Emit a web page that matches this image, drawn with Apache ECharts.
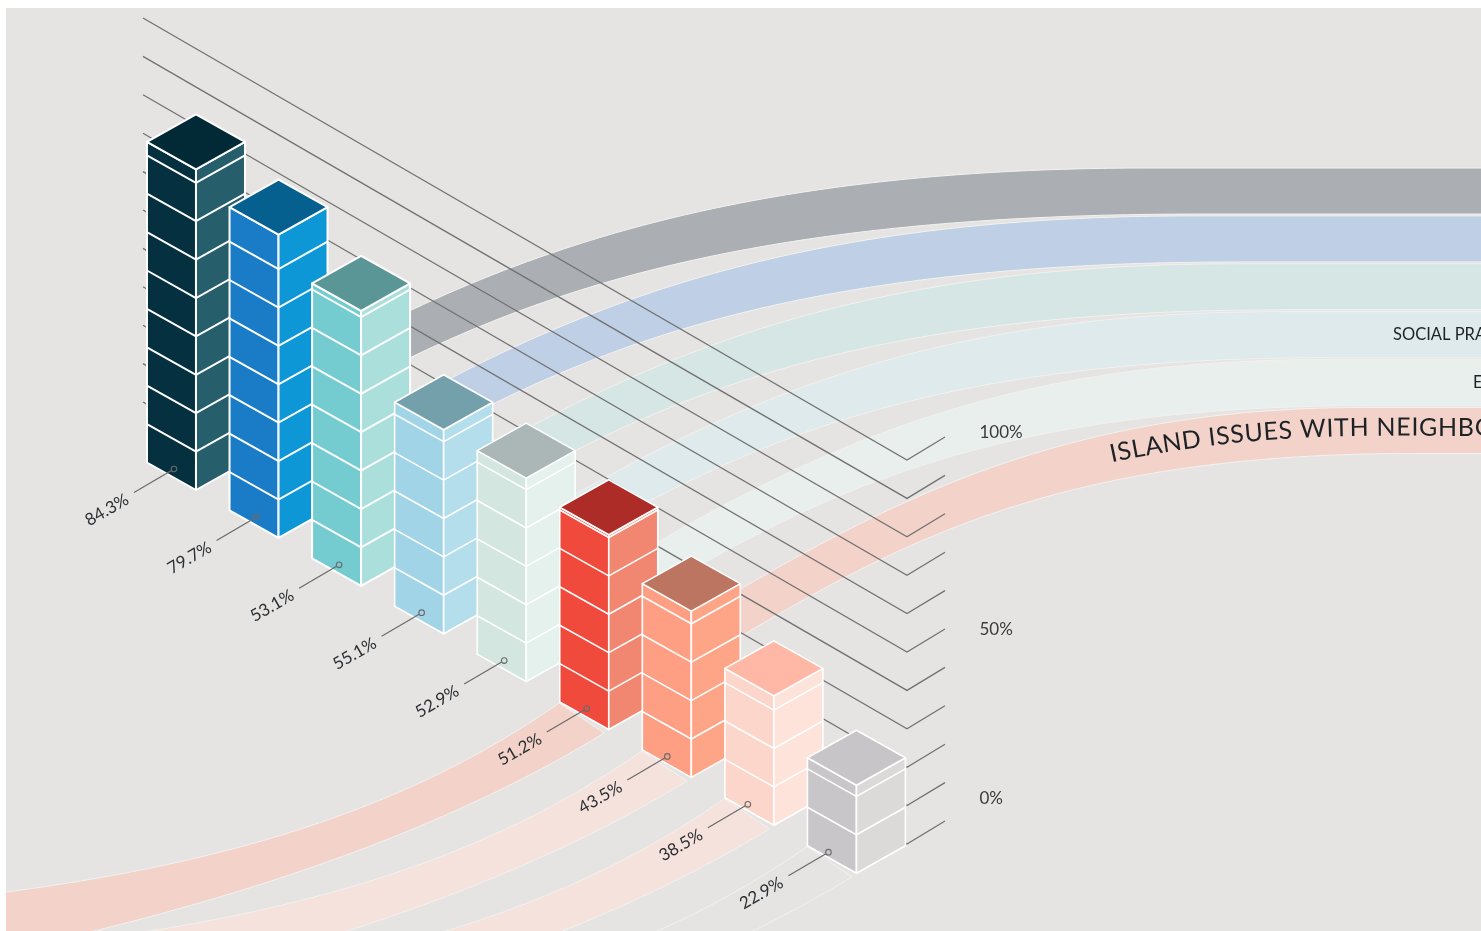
<!DOCTYPE html>
<html>
<head>
<meta charset="utf-8">
<title>Island issues</title>
<style>
html,body{margin:0;padding:0;background:#fff;overflow:hidden;}
#main{position:absolute;left:6px;top:8px;width:1475px;height:923px;background:#e5e4e2;}
</style>
<script src="https://cdn.jsdelivr.net/npm/echarts@6/dist/echarts.min.js"></script>
</head>
<body>
<div id="main"></div>
<script>
var categories = ['a','b','c','d','e','f','g','h','i'];
// bar heights as drawn, they differ from the printed labels on some bars
var barHeights = [83.5, 79, 71.6, 53.1, 53, 50.7, 43.3, 33.7, 22.9];
var barLabels = ['84.3%','79.7%','53.1%','55.1%','52.9%','51.2%','43.5%','38.5%','22.9%'];
var leftColors = ['#05303f','#1a7cc6','#74cbd0','#a1d4e6','#d4e6e0','#ef4a3b','#fe9f84','#fdd6cb','#c8c6c8'];
var rightColors = ['#265e6c','#0e97d6','#abdfdb','#b4deeb','#e4f1ec','#f28771','#fea588','#fee3da','#dcdad8'];
var topColors = ['#022a36','#05608f','#5a9695','#74a0ac','#abb7b7','#ae2c28','#bc7560','#ffb8a6','#c7c5c7'];
var gridLevels = [100,90,80,70,60,50,40,30,20,10,0];
var tickLabels = ['100%','50%','0%'];
var tickLabelLevels = [100,50,0];
var ribbonColors = ['#abafb3','#bfcfe5','#d5e6e5','#deeaec','#e9efed','#f3d3c9'];
var ribbonNames = ['','','','SOCIAL PRACTICES','ECONOMY','ISLAND ISSUES WITH NEIGHBOURS'];
var lowerRibbonBars = [5,6,7,8];
var lowerRibbonColors = ['#f3d3c9','#f5e2dc','#f5e2dc','#e5e4e2'];

var STEP_Y = 47.9;   // each bar sits this much lower than the one before
var HW = 49, HH = 27.5; // half size of the top diamond
var FONT = 'Lato, "Noto Sans", sans-serif';

function base(api, i, v){
	var p = api.coord([i, v]);
	return [p[0], p[1] + i * STEP_Y];
}

function bez(a, b, c, d, t){
	var s = 1 - t;
	return s*s*s*a + 3*s*s*t*b + 3*s*t*t*c + t*t*t*d;
}

function sample(p0, p1, p2, p3, n){
	var out = [];
	for (var k = 0; k <= n; k++) {
		out.push([bez(p0[0],p1[0],p2[0],p3[0],k/n), bez(p0[1],p1[1],p2[1],p3[1],k/n)]);
	}
	return out;
}

// upper and lower edge of a ribbon going right from bar i
function ribbonEdges(b, i){
	var x = b[0], y = b[1];
	var top = sample([x,y-60],[x+234,y-205],[x+464-9*i,y-322],[x+954-40*i,y-322],70);
	var bot = sample([x,y-14],[x+234,y-150],[x+424-9*i,y-276],[x+1004-40*i,y-276],70);
	top.push([x+1500,y-322]);
	bot.push([x+1500,y-276]);
	return {top:top, bot:bot};
}

function midAt(edges, px){
	function at(line){
		for (var k = 1; k < line.length; k++) {
			if (line[k][0] >= px) {
				var a = line[k-1], c = line[k];
				return a[1] + (c[1]-a[1]) * (px-a[0]) / (c[0]-a[0]);
			}
		}
		return line[line.length-1][1];
	}
	return (at(edges.top) + at(edges.bot)) / 2;
}

var ctx = document.createElement('canvas').getContext('2d');

function curvedText(str, edges, startX, size){
	var font = size + 'px ' + FONT;
	ctx.font = font;
	var out = [], x = startX;
	for (var k = 0; k < str.length; k++) {
		var w = ctx.measureText(str[k]).width + 0.7;
		var cx = x + w/2;
		var ang = Math.atan2(midAt(edges, cx+4) - midAt(edges, cx-4), 8);
		out.push({
			type:'text', x:cx, y:midAt(edges, cx)-3, rotation:-ang,
			style:{text:str[k], font:font, fill:'#1d2226', align:'center', verticalAlign:'middle'}
		});
		x += w * Math.cos(ang);
	}
	return out;
}

function renderRibbon(params, api){
	var i = api.value(0);
	var b = base(api, i, 0);
	var e = ribbonEdges(b, i);
	var kids = [{
		type:'polygon',
		shape:{points:e.top.concat(e.bot.slice().reverse())},
		style:{fill:ribbonColors[i], stroke:'#f1f1ef', lineWidth:1}
	}];
	if (i == 5) {
		kids = kids.concat(curvedText(ribbonNames[i], e, b[0]+501, 25));
	} else if (ribbonNames[i]) {
		kids.push({
			type:'text', x:i==3 ? 1387 : 1467, y:midAt(e, 1440),
			style:{text:ribbonNames[i], font:'16.5px '+FONT, fill:'#1d2226', align:'left', verticalAlign:'middle'}
		});
	}
	return {type:'group', children:kids};
}

function renderLowerRibbon(params, api){
	var i = api.value(0);
	var b = base(api, i, 0), x = b[0], y = b[1];
	var top = sample([x-49.5,y-26.5],[x-188.5,y+70.5],[x-358.5,y+130.5],[x-602.5,y+162.5],60);
	var bot = sample([x-4.5,y+3.5],[x-138.5,y+85.5],[x-308.5,y+150.5],[x-510.5,y+200.5],60);
	top.push([x-800,y+200]);
	bot.push([x-800,y+272]);
	return {
		type:'polygon',
		shape:{points:top.concat(bot.reverse())},
		style:{fill:lowerRibbonColors[params.dataIndex], stroke:'#f1f1ef', lineWidth:1}
	};
}

function renderGrid(params, api){
	var p = api.coord([0, api.value(0)]);
	var left = p[0] - 53, corner = p[0] + 711, end = p[0] + 749;
	return {
		type:'polyline',
		shape:{points:[[left,p[1]-88],[corner,p[1]+354],[end,p[1]+331]]},
		style:{fill:null, stroke:'#727272', lineWidth:1.3}
	};
}

function renderTickLabel(params, api){
	var lv = api.value(0);
	var p = api.coord([8, lv]);
	// labels sit off their own lines in the source, the 0% one most of all
	var nudge = lv == 0 ? -22 : (lv == 100 ? -4 : 1);
	return {
		type:'text', x:p[0]+123, y:p[1]+331+nudge,
		style:{text:tickLabels[params.dataIndex], font:'17px '+FONT, fill:'#3a3a3a', align:'left', verticalAlign:'middle'}
	};
}

function renderBar(params, api){
	var i = api.value(0), h = api.value(1);
	var b = base(api, i, 0), t = base(api, i, h);
	var kids = [];
	var lw = i < 3 ? 2 : 1.6;
	function face(pts, color){
		kids.push({type:'polygon', shape:{points:pts}, style:{fill:color, stroke:'#fff', lineWidth:lw, lineJoin:'round'}});
	}
	face([[b[0]-HW,b[1]-HH],[b[0],b[1]],[t[0],t[1]],[t[0]-HW,t[1]-HH]], leftColors[i]);
	face([[b[0],b[1]],[b[0]+HW,b[1]-HH],[t[0]+HW,t[1]-HH],[t[0],t[1]]], rightColors[i]);
	// segment lines every 10%
	for (var v = 10; v < h; v += 10) {
		var s = base(api, i, v);
		kids.push({
			type:'polyline',
			shape:{points:[[s[0]-HW,s[1]-HH],[s[0],s[1]],[s[0]+HW,s[1]-HH]]},
			style:{fill:null, stroke:'#fff', lineWidth:lw}
		});
	}
	face([[t[0],t[1]],[t[0]-HW,t[1]-HH],[t[0],t[1]-2*HH],[t[0]+HW,t[1]-HH]], topColors[i]);
	return {type:'group', children:kids};
}

function renderLabel(params, api){
	var i = api.value(0);
	var b = base(api, i, 0);
	var x = b[0] - Math.max(0, i-5) * 2;
	return {type:'group', children:[
		{type:'line', shape:{x1:x-24.5,y1:b[1]-19.5,x2:x-62,y2:b[1]+2.5}, style:{stroke:'#6a6a6a', lineWidth:1.2}},
		{type:'circle', shape:{cx:x-22,cy:b[1]-21,r:2.8}, style:{fill:'none', stroke:'#6a6a6a', lineWidth:1.1}},
		{type:'text', x:x-89, y:b[1]+20, rotation:Math.PI/6,
			style:{text:barLabels[i], font:'17px '+FONT, fill:'#2b2f33', align:'center', verticalAlign:'middle'}}
	]};
}

var myChart = echarts.init(document.getElementById('main'));
var option = {
	animation:false,
	grid:{left:148.7, top:98, width:743, height:384},
	xAxis:{type:'category', data:categories, show:false},
	yAxis:{type:'value', min:0, max:100, show:false},
	series:[
		{type:'custom', silent:true, z:1, clip:false, renderItem:renderRibbon,
			data:ribbonColors.map(function(c,i){return [i];}), encode:{x:0}},
		{type:'custom', silent:true, z:2, clip:false, renderItem:renderLowerRibbon,
			data:lowerRibbonBars.map(function(i){return [i];}), encode:{x:0}},
		{type:'custom', silent:true, z:3, clip:false, renderItem:renderGrid,
			data:gridLevels.map(function(v){return [v];}), encode:{y:0}},
		{type:'custom', silent:true, z:3, clip:false, renderItem:renderTickLabel,
			data:tickLabelLevels.map(function(v){return [v];}), encode:{y:0}},
		{type:'custom', silent:true, z:4, clip:false, renderItem:renderBar,
			data:barHeights.map(function(h,i){return [i,h];}), encode:{x:0,y:1}},
		{type:'custom', silent:true, z:5, clip:false, renderItem:renderLabel,
			data:barHeights.map(function(h,i){return [i,h];}), encode:{x:0,y:1}}
	]
};
myChart.setOption(option);
</script>
</body>
</html>
